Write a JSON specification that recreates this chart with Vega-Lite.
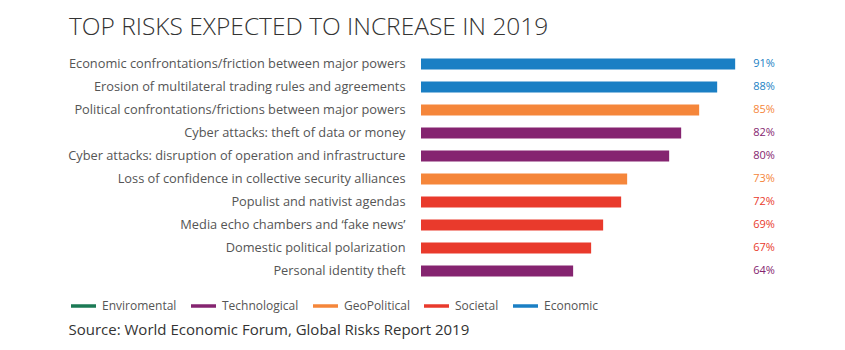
{
  "$schema": "https://vega.github.io/schema/vega-lite/v6.json",
  "width": 424,
  "height": 230,
  "autosize": {"type": "none"},
  "padding": {"left": 421, "top": 52.5, "right": 0, "bottom": 67.5},
  "background": "white",
  "title": {
    "text": "TOP RISKS EXPECTED TO INCREASE IN 2019",
    "anchor": "start",
    "frame": "group",
    "dx": -352,
    "dy": -12,
    "offset": 0,
    "font": "Open Sans",
    "fontSize": 24.5,
    "fontWeight": 300,
    "color": "#333333"
  },
  "data": {
    "values": [
      {"risk": "Economic confrontations/friction between major powers", "category": "Economic", "value": 91, "label": "91%"},
      {"risk": "Erosion of multilateral trading rules and agreements", "category": "Economic", "value": 88, "label": "88%"},
      {"risk": "Political confrontations/frictions between  major powers", "category": "GeoPolitical", "value": 85, "label": "85%"},
      {"risk": "Cyber attacks: theft of data or money", "category": "Technological", "value": 82, "label": "82%"},
      {"risk": "Cyber attacks: disruption of operation and infrastructure", "category": "Technological", "value": 80, "label": "80%"},
      {"risk": "Loss of confidence in collective security alliances", "category": "GeoPolitical", "value": 73, "label": "73%"},
      {"risk": "Populist and nativist agendas", "category": "Societal", "value": 72, "label": "72%"},
      {"risk": "Media echo chambers and ‘fake news’", "category": "Societal", "value": 69, "label": "69%"},
      {"risk": "Domestic political polarization", "category": "Societal", "value": 67, "label": "67%"},
      {"risk": "Personal identity theft", "category": "Technological", "value": 64, "label": "64%"}
    ]
  },
  "encoding": {
    "y": {
      "field": "risk",
      "type": "nominal",
      "sort": null,
      "scale": {"paddingInner": 0.53, "paddingOuter": 0.265},
      "axis": {
        "title": null,
        "domain": false,
        "ticks": false,
        "labelPadding": 16,
        "labelFont": "Open Sans",
        "labelFontSize": 12.8,
        "labelColor": "#555555",
        "labelLimit": 400
      }
    },
    "color": {
      "field": "category",
      "type": "nominal",
      "scale": {
        "domain": ["Enviromental", "Technological", "GeoPolitical", "Societal", "Economic"],
        "range": ["#1b7a55", "#852470", "#f5863a", "#e93a2c", "#1a7fc4"]
      },
      "legend": {
        "title": null,
        "orient": "none",
        "direction": "horizontal",
        "legendX": -350,
        "legendY": 241,
        "gridAlign": "none",
        "symbolType": "M-1,-0.14H1V0.14H-1Z",
        "symbolSize": 625,
        "symbolStrokeWidth": 0,
        "labelFont": "Open Sans",
        "labelFontSize": 12,
        "labelColor": "#555555",
        "columnPadding": 14,
        "labelOffset": 6
      }
    }
  },
  "layer": [
    {
      "mark": {"type": "bar"},
      "encoding": {
        "x": {
          "field": "value",
          "type": "quantitative",
          "scale": {"domain": [38.65, 109.3], "zero": false, "nice": false},
          "axis": {
            "title": "Source: World Economic Forum, Global Risks Report 2019",
            "titleAnchor": "start",
            "titleAlign": "left",
            "titleX": -353,
            "titleY": 52,
            "titleBaseline": "alphabetic",
            "titleFont": "Open Sans",
            "titleFontSize": 15,
            "titleFontWeight": "normal",
            "titleColor": "#333333",
            "labels": false,
            "ticks": false,
            "domain": false,
            "grid": false
          }
        },
        "x2": {"datum": 38.65}
      }
    },
    {
      "mark": {"type": "text", "align": "left", "baseline": "middle", "font": "Open Sans", "fontSize": 11},
      "encoding": {
        "x": {"datum": 94},
        "text": {"field": "label", "type": "nominal"}
      }
    }
  ],
  "config": {"view": {"stroke": null}}
}
